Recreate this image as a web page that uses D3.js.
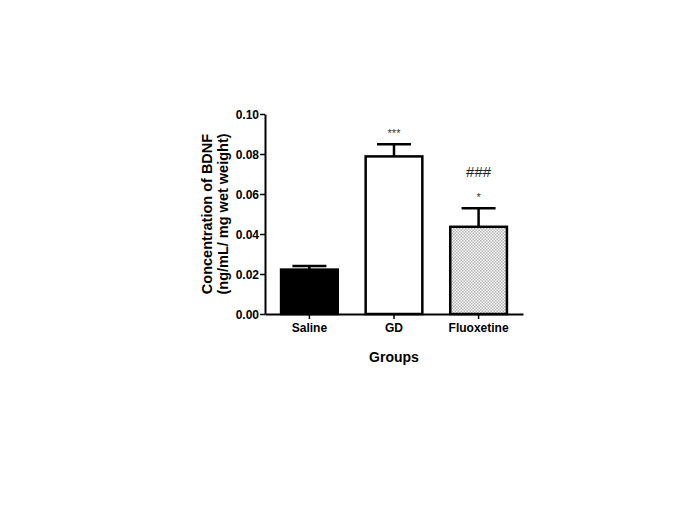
<!DOCTYPE html>
<html>
<head>
<meta charset="utf-8">
<script src="https://cdn.jsdelivr.net/npm/d3@7/dist/d3.min.js"></script>
<style>
  body { margin: 0; background: #fff; }
  text { font-family: "Liberation Sans", Arial, sans-serif; }
</style>
</head>
<body>
<script>
// data
const groups = ['Saline', 'GD', 'Fluoxetine'];
const means = [0.0222, 0.0788, 0.0436];
const sems = [0.0018, 0.0061, 0.0093];
const yTicks = [0, 0.02, 0.04, 0.06, 0.08, 0.1];
const marks = ['', '***', '*'];
const marks2 = ['', '', '###'];

const width = 685;
const height = 513;

const svg = d3.select('body').append('svg')
  .attr('width', width)
  .attr('height', height);

// stipple pattern for the fluoxetine bar
const defs = svg.append('defs');
const pat = defs.append('pattern')
  .attr('id', 'dots')
  .attr('width', 3)
  .attr('height', 3)
  .attr('patternUnits', 'userSpaceOnUse');
pat.append('rect').attr('width', 3).attr('height', 3).attr('fill', '#fbfbfb');
pat.append('rect').attr('width', 1.5).attr('height', 1.5).attr('fill', '#b4b4b4');
pat.append('rect').attr('x', 1.5).attr('y', 1.5).attr('width', 1.5).attr('height', 1.5).attr('fill', '#b4b4b4');

const x = d3.scaleBand()
  .domain(groups)
  .range([265, 523])
  .paddingInner(0.33)
  .paddingOuter(0.19);

const y = d3.scaleLinear()
  .domain([0, 0.1])
  .range([314, 114]);

const fills = ['#000', '#fff', 'url(#dots)'];

// error bars (upper only) drawn first so the bar outline sits on top
const g = svg.append('g');
groups.forEach((name, i) => {
  const cx = x(name) + x.bandwidth() / 2;
  const capW = x.bandwidth() * 0.6;
  g.append('line')
    .attr('x1', cx).attr('x2', cx)
    .attr('y1', y(means[i])).attr('y2', y(means[i] + sems[i]))
    .attr('stroke', '#000').attr('stroke-width', 2.5);
  g.append('line')
    .attr('x1', cx - capW / 2).attr('x2', cx + capW / 2)
    .attr('y1', y(means[i] + sems[i])).attr('y2', y(means[i] + sems[i]))
    .attr('stroke', '#000').attr('stroke-width', 2.5);
});

g.selectAll('rect.bar')
  .data(groups)
  .join('rect')
  .attr('class', 'bar')
  .attr('x', d => x(d))
  .attr('y', (d, i) => y(means[i]))
  .attr('width', x.bandwidth())
  .attr('height', (d, i) => y(0) - y(means[i]))
  .attr('fill', (d, i) => fills[i])
  .attr('stroke', '#000')
  .attr('stroke-width', 2.5);

// significance marks
groups.forEach((name, i) => {
  const cx = x(name) + x.bandwidth() / 2;
  const top = y(means[i] + sems[i]);
  if (marks[i]) {
    svg.append('text')
      .attr('x', cx)
      .attr('y', top - 7)
      .attr('text-anchor', 'middle')
      .attr('font-size', 11)
      .attr('fill', '#333')
      .text(marks[i]);
  }
  if (marks2[i]) {
    svg.append('text')
      .attr('x', cx)
      .attr('y', top - 31)
      .attr('text-anchor', 'middle')
      .attr('font-size', 15)
      .attr('fill', '#222')
      .text(marks2[i]);
  }
});

// y axis
const yAxis = svg.append('g')
  .attr('transform', 'translate(265,0)')
  .call(d3.axisLeft(y).tickValues(yTicks).tickFormat(d3.format('.2f')).tickSize(5).tickSizeOuter(0));
yAxis.select('.domain').attr('stroke-width', 2);
yAxis.selectAll('.tick line').attr('stroke-width', 1.5);
yAxis.selectAll('.tick text')
  .attr('font-size', 12)
  .attr('font-weight', 'bold')
  .attr('font-family', '"Liberation Sans", Arial, sans-serif')
  .attr('x', -6)
  .attr('dy', '0.35em');

// x axis
const xAxis = svg.append('g')
  .attr('transform', 'translate(0,314)')
  .call(d3.axisBottom(x).tickSize(5).tickSizeOuter(0));
xAxis.select('.domain').attr('stroke-width', 2);
xAxis.selectAll('.tick line').attr('stroke-width', 1.5);
xAxis.selectAll('.tick text')
  .attr('font-size', 12)
  .attr('font-weight', 'bold')
  .attr('font-family', '"Liberation Sans", Arial, sans-serif')
  .attr('y', 9);

// axis titles
svg.append('text')
  .attr('x', 394)
  .attr('y', 362)
  .attr('text-anchor', 'middle')
  .attr('font-size', 14)
  .attr('font-weight', 'bold')
  .text('Groups');

const yTitle = svg.append('text')
  .attr('transform', 'translate(212,214) rotate(-90)')
  .attr('text-anchor', 'middle')
  .attr('font-size', 14.5)
  .attr('font-weight', 'bold');
yTitle.append('tspan').attr('x', 0).attr('dy', 0).text('Concentration of BDNF');
yTitle.append('tspan').attr('x', 0).attr('dy', 16).text('(ng/mL/ mg wet weight)');
</script>
</body>
</html>
